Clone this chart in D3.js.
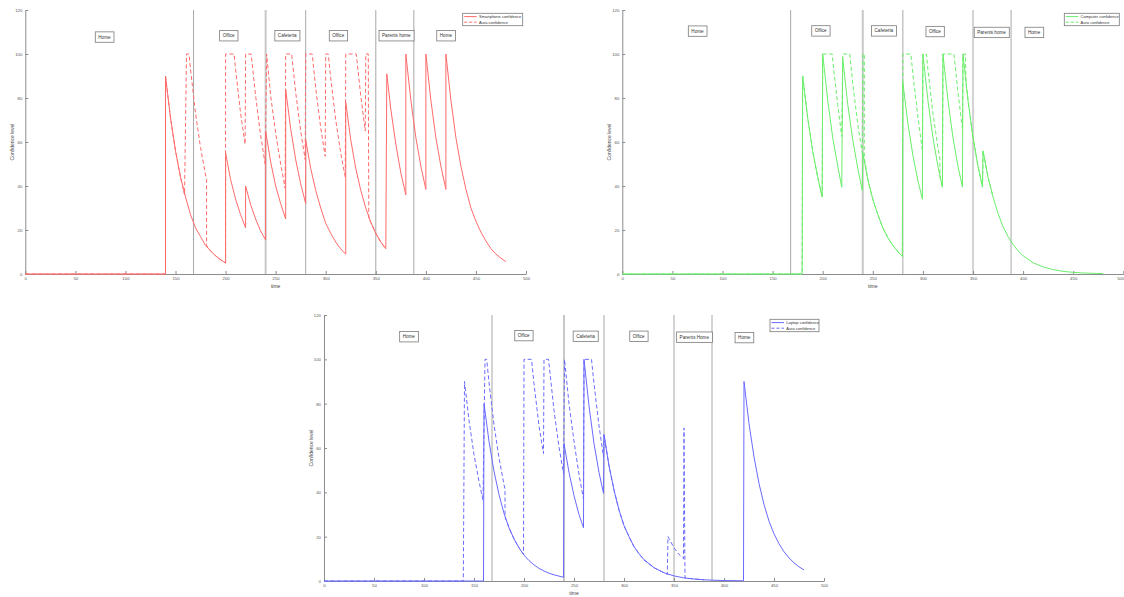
<!DOCTYPE html>
<html>
<head>
<meta charset="utf-8">
<script src="https://cdn.jsdelivr.net/npm/d3@7/dist/d3.min.js"></script>
<style>
  body { margin: 0; background: #fff; }
  svg text { font-family: "Liberation Sans", Arial, sans-serif; }
</style>
</head>
<body>
<svg id="chart" width="1124" height="597"></svg>
<script>
// ---- shared axis values ----
var xTicks = [0, 50, 100, 150, 200, 250, 300, 350, 400, 450, 500]
var yTicks = [0, 20, 40, 60, 80, 100, 120]
var roomChanges = [168, 240, 280, 350, 388]

// ---- smartphone panel ----
var phoneConf = [[0,0],[140,0],[140,90],[145,71],[150,56],[155,44],[160,35],[165,27],[170,21],[175,17],[180,13],[185,10.5],[190,8.3],[195,6.5],[200,5],
  [200,55],[205,43],[210,34],[215,27],[220,21],
  [220,40],[225,31.5],[230,25],[235,19.5],[240,15.5],
  [240,65],[245,51],[250,40],[255,32],[260,25],
  [260,84],[265,66],[270,52],[275,41],[280,32],
  [280,61],[285,48],[290,38],[295,30],[300,23],[305,18.5],[310,14.5],[315,11.4],[320,9],
  [320,78],[325,61],[330,48],[335,38],[340,30],[345,23.5],[350,18.5],[355,14.5],[360,11.5],
  [361,91],[365,75],[370,59],[375,46],[380,36],
  [380,100],[385,79],[390,62],[395,49],[400,38.5],
  [400,100],[405,79],[410,62],[415,49],[420,38.5],
  [420,100],[425,79],[430,62],[435,49],[440,38.5],[445,30],[450,24],[455,19],[460,15],[465,11.5],[470,9],[475,7.2],[480,5.6]]
var phoneAura = [[0,0],[140,0],[140,90],[145,71],[150,56],[155,44],[159,36],[161,100],[163.5,100],[165,93],[170,73],[175,57.5],[180,45],[181,43],
  [181,13],[185,10.5],[190,8.3],[195,6.5],[200,5],
  [200,100],[208.5,100],[210,93],[215,73],[219.5,59],
  [220,100],[225.5,100],[230,81],[235,63],[239.5,50],
  [241,100],[245,81],[250,64],[255,50],[259.5,39],
  [260,100],[266,100],[270,82.5],[275,65],[279.5,52],
  [280,100],[286.5,100],[290,84.5],[295,66.5],[299.5,53.5],
  [300,100],[302.5,100],[305,89],[310,70],[315,55],[319.5,44],
  [320,100],[330.5,100],[335,81],[339.5,65],
  [340,100],[342.5,100],[343,25],[345,23.5],[350,18.5],[355,14.5],[360,11.5]]
var phonePlaces = ["Home", "Office", "Cafeteria", "Office", "Parents home", "Home"]
var phonePlaceT = [79, 203, 261.5, 312.5, 370.5, 420]
var phonePlaceV = [107.7, 108.3, 108.3, 108.3, 108.3, 108.3]

// ---- computer panel ----
var compConf = [[0,0],[179.5,0],[180,90],[185,71],[190,56],[195,44],[199.5,35],
  [200,100],[205,79],[210,62],[215,49],[219,39.5],
  [220,98],[225,77],[230,61],[235,48],[239.5,38],
  [240,55],[245,43],[250,34],[255,27],[260,21],[265,16.5],[270,13],[275,10.2],[279.5,8],
  [280,87],[285,68.5],[290,54],[295,42.5],[299.5,34],
  [300,100],[305,79],[310,62],[315,49],[319.5,39.5],
  [320,100],[325,79],[330,62],[335,49],[339.5,39.5],
  [340,100],[345,79],[350,62],[355,49],[359.5,39.5],
  [360,56],[365,44],[370,35],[375,27.5],[380,21.5],[385,17],[390,13.4],[395,10.5],[400,8.3],[410,5.1],[420,3.2],[430,2],[440,1.2],[450,0.75],[460,0.47],[470,0.3],[480,0.18]]
var compAura = [[0,0],[179.5,0],[180,90],[185,71],[190,56],[195,44],[199.5,35],
  [200,100],[209.5,100],[210,97],[215,77],[219,62.5],
  [220,100],[227,100],[230,86.5],[235,68],[239.5,55],
  [240,100],[241.5,100],[241.5,53],[245,43],[250,34],[255,27],[260,21],[265,16.5],[270,13],[275,10.2],[279.5,8],
  [280,100],[288,100],[290,91],[295,71.5],[299.5,56],
  [300,100],[303.5,100],[305,93],[310,73],[315,57.5],[317,52],[317,44],[319.5,39.5],
  [320,100],[331,100],[335,82.5],[339.5,66],
  [340,100],[342.5,100],[343,87],[345,79],[350,62],[355,49],[359.5,39.5],[360,56],[365,44],[370,35]]
var compPlaces = ["Home", "Office", "Cafeteria", "Office", "Parents home", "Home"]
var compPlaceT = [75, 198, 261, 312, 368.5, 411]
var compPlaceV = [110.4, 110.5, 110.5, 110.2, 109.8, 109.8]

// ---- laptop panel ----
var laptopConf = [[0,0],[159.5,0],[160,80],[165,63],[170,49.5],[175,39],[180,30.5],[185,24],[190,19],[195,15],[200,11.7],[205,9.2],[210,7.3],[215,5.7],[220,4.5],[225,3.5],[230,2.8],[235,2.2],[239.5,1.7],
  [240,62],[245,49],[250,38.5],[255,30],[259.5,24],
  [260,100],[265,79],[270,62],[275,49],[279.5,39.5],
  [280,66],[285,52],[290,41],[295,32],[300,25],[305,20],[310,15.5],[315,12.3],[320,9.6],[330,6],[340,3.7],[350,2.3],[360,1.4],[370,0.9],[380,0.55],[390,0.35],[400,0.2],[419.5,0.1],
  [420,90],[425,71],[430,56],[435,44],[440,34.5],[445,27],[450,21.3],[455,16.8],[460,13.2],[465,10.4],[470,8.2],[475,6.4],[480,5]]
var laptopAura = [[0,0],[139.3,0],[140.5,90],[145,72.5],[150,57],[155,45],[159,36.5],
  [161,100],[162.7,100],[165,89.5],[170,70.5],[175,55.5],[180,43.5],[181,41.5],
  [181,29],[185,24],[190,19],[195,15],[199.5,12],
  [200,100],[207.5,100],[210,89],[215,70],[219.5,57.5],
  [220,100],[224.5,100],[230,77],[235,60.5],[239.5,48.5],
  [240.5,100],[245,80],[250,63],[255,48],[259.5,37],
  [260,100],[267.5,100],[270,89],[275,70],[279.5,56],
  [280,66],[285,52],[290,41],[295,32],[300,25],[305,20],[310,15.5],[315,12.3],[320,9.6],[330,6],[340,3.7],[343.3,3],
  [344,20],[345,19.2],[350,15],[355,12],[359.5,10],[360,69],[361,1.4],[370,0.9],[380,0.55]]
var laptopPlaces = ["Home", "Office", "Cafeteria", "Office", "Parents Home", "Home"]
var laptopPlaceT = [84.8, 199.7, 261.5, 314.7, 370.3, 420.2]
var laptopPlaceV = [110.2, 110.7, 110.4, 110.4, 110, 109.8]

var svg = d3.select("#chart")

function drawPanel(p) {
  var g = svg.append("g")
  var x = d3.scaleLinear().domain([0, 500]).range([p.left, p.right])
  var y = d3.scaleLinear().domain([0, 120]).range([p.bottom, p.top])

  // room change markers
  g.selectAll("line.room")
    .data(roomChanges)
    .enter()
    .append("line")
    .attr("x1", function(d) { return x(d) })
    .attr("x2", function(d) { return x(d) })
    .attr("y1", y(120))
    .attr("y2", y(0))
    .attr("stroke", function(d) { return d === 240 ? "#c8c8c8" : "#a8a8a8" })
    .attr("stroke-width", function(d) { return d === 240 ? 2 : 1 })

  // axes
  var xAxis = g.append("g")
    .attr("transform", "translate(0," + p.bottom + ")")
    .call(d3.axisBottom(x).tickValues(xTicks).tickSizeInner(-3).tickSizeOuter(0).tickPadding(3))
  var yAxis = g.append("g")
    .attr("transform", "translate(" + p.left + ",0)")
    .call(d3.axisLeft(y).tickValues(yTicks).tickSizeInner(-3).tickSizeOuter(0).tickPadding(3))
  ;[xAxis, yAxis].forEach(function(a) {
    a.selectAll("path, line").attr("stroke", "#8c8c8c")
    a.selectAll("text").attr("font-size", 4.3).attr("fill", "#555")
  })
  // keep the last tick label inside the page when the panel touches the edge
  if (p.right > 1118) {
    xAxis.selectAll(".tick text")
      .filter(function(d) { return d === 500 })
      .attr("text-anchor", "end")
      .attr("x", 0.5)
  }

  g.append("text")
    .attr("x", (p.left + p.right) / 2)
    .attr("y", p.bottom + 12)
    .attr("text-anchor", "middle")
    .attr("dominant-baseline", "central")
    .attr("font-size", 5)
    .attr("fill", "#444")
    .text("time")

  g.append("text")
    .attr("transform", "translate(" + (p.left - 13) + "," + ((p.top + p.bottom) / 2) + ") rotate(-90)")
    .attr("text-anchor", "middle")
    .attr("dominant-baseline", "central")
    .attr("font-size", 5)
    .attr("fill", "#444")
    .text("Confidence level")

  var line = d3.line()
    .x(function(d) { return x(d[0]) })
    .y(function(d) { return y(d[1]) })

  g.append("path")
    .datum(p.conf)
    .attr("d", line)
    .attr("fill", "none")
    .attr("stroke", p.color)
    .attr("stroke-width", 1)

  g.append("path")
    .datum(p.aura)
    .attr("d", line)
    .attr("fill", "none")
    .attr("stroke", p.color)
    .attr("stroke-width", 1)
    .attr("stroke-dasharray", "4,2.5")

  // place labels
  var labels = g.selectAll("g.place")
    .data(p.places)
    .enter()
    .append("g")
    .attr("transform", function(d, i) { return "translate(" + x(p.placeT[i]) + "," + y(p.placeV[i]) + ")" })
  labels.append("text")
    .attr("text-anchor", "middle")
    .attr("dominant-baseline", "central")
    .attr("font-size", 4.6)
    .attr("fill", "#333")
    .text(function(d) { return d })
  labels.each(function() {
    var el = d3.select(this)
    var bb = el.select("text").node().getBBox()
    el.insert("rect", "text")
      .attr("x", bb.x - 3)
      .attr("y", -5.2)
      .attr("width", bb.width + 6)
      .attr("height", 10.4)
      .attr("fill", "#fff")
      .attr("stroke", "#7a7a7a")
      .attr("stroke-width", 0.8)
  })

  // legend
  var lg = g.append("g").attr("transform", "translate(" + p.legendX + "," + p.legendY + ")")
  lg.append("rect")
    .attr("width", p.legendW)
    .attr("height", 12.4)
    .attr("fill", "#fff")
    .attr("stroke", "#7a7a7a")
    .attr("stroke-width", 0.8)
  var rows = [p.legendName, "Aura confidence"]
  rows.forEach(function(name, i) {
    lg.append("line")
      .attr("x1", 1.5).attr("x2", 14)
      .attr("y1", 3.3 + i * 5.6).attr("y2", 3.3 + i * 5.6)
      .attr("stroke", p.color)
      .attr("stroke-width", 1)
      .attr("stroke-dasharray", i === 1 ? "3,2" : null)
    lg.append("text")
      .attr("x", 16.3)
      .attr("y", 3.3 + i * 5.6)
      .attr("dominant-baseline", "central")
      .attr("font-size", 4)
      .attr("fill", "#333")
      .text(name)
  })
}

drawPanel({ left: 25.3, right: 526, top: 10, bottom: 274, color: "#ff6a6a",
  conf: phoneConf, aura: phoneAura, places: phonePlaces, placeT: phonePlaceT, placeV: phonePlaceV,
  legendX: 462.7, legendY: 13.3, legendW: 60, legendName: "Smartphone confidence" })

drawPanel({ left: 622.3, right: 1123.3, top: 10, bottom: 274, color: "#6aee6a",
  conf: compConf, aura: compAura, places: compPlaces, placeT: compPlaceT, placeV: compPlaceV,
  legendX: 1064.3, legendY: 13.3, legendW: 55, legendName: "Computer confidence" })

drawPanel({ left: 324, right: 824, top: 315, bottom: 581, color: "#6a6aff",
  conf: laptopConf, aura: laptopAura, places: laptopPlaces, placeT: laptopPlaceT, placeV: laptopPlaceV,
  legendX: 770, legendY: 319.3, legendW: 49, legendName: "Laptop confidence" })
</script>
</body>
</html>
